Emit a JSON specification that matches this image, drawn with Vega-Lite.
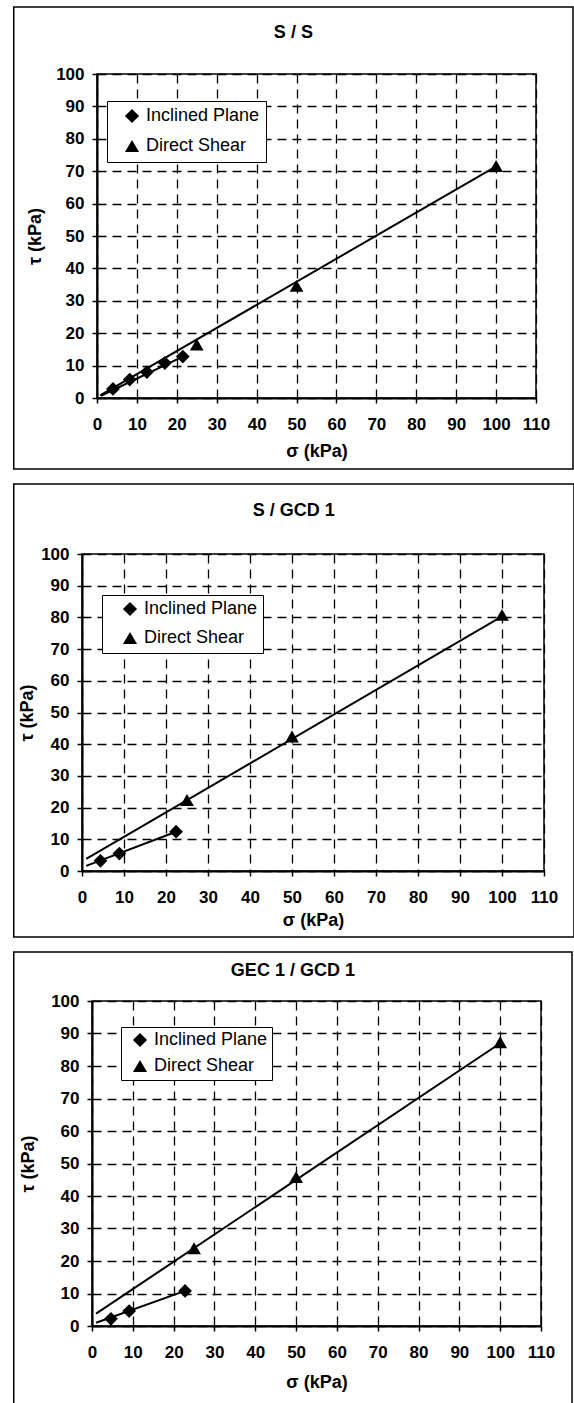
{
  "$schema": "https://vega.github.io/schema/vega-lite/v6.json",
  "background": "white",
  "padding": {"left": 11, "top": 5, "right": 1, "bottom": 0},
  "columns": 2,
  "align": "none",
  "spacing": {"row": 11, "column": 0},
  "resolve": {
    "scale": {"x": "independent", "y": "independent", "shape": "independent"},
    "axis": {"x": "independent", "y": "independent"},
    "legend": {"shape": "independent"}
  },
  "concat": [
    {
      "width": 1, "height": 1, "view": {"stroke": null},
      "data": {"values": [{"note": "spacer"}]},
      "mark": {"type": "text", "text": "", "opacity": 0}
    },
    {
      "width": 439, "height": 324,
      "title": {"text": "S / S", "offset": -36},
      "layer": [
        {
          "data": {"values": [{"frame": "S / S"}]},
          "mark": {"type": "rect", "filled": false, "color": "black", "strokeWidth": 1.5},
          "encoding": {
            "x": {"datum": -20.86, "type": "quantitative", "scale": {"domain": [0, 110], "nice": false, "zero": false},
                  "axis": {"title": "σ (kPa)", "values": [0,10,20,30,40,50,60,70,80,90,100,110], "titlePadding": 10}},
            "x2": {"datum": 119.27},
            "y": {"datum": 120.68, "type": "quantitative", "scale": {"domain": [0, 100], "nice": false, "zero": false},
                  "axis": {"title": "τ (kPa)", "values": [0,10,20,30,40,50,60,70,80,90,100], "titlePadding": 11}},
            "y2": {"datum": -21.91}
          }
        },
        {
          "data": {"values": [
            {"sigma": 0.8, "tau": 0.8, "method": "Direct Shear"},
            {"sigma": 100, "tau": 71.5, "method": "Direct Shear"},
            {"sigma": 1, "tau": 0.7, "method": "Inclined Plane"},
            {"sigma": 21.5, "tau": 12.8, "method": "Inclined Plane"}
          ]},
          "mark": {"type": "line", "color": "black", "strokeWidth": 2},
          "encoding": {
            "x": {"field": "sigma", "type": "quantitative", "scale": {"domain": [0, 110], "nice": false, "zero": false},
                  "axis": {"title": "σ (kPa)", "values": [0,10,20,30,40,50,60,70,80,90,100,110], "titlePadding": 10}},
            "y": {"field": "tau", "type": "quantitative", "scale": {"domain": [0, 100], "nice": false, "zero": false},
                  "axis": {"title": "τ (kPa)", "values": [0,10,20,30,40,50,60,70,80,90,100], "titlePadding": 11}},
            "detail": {"field": "method"}
          }
        },
        {
          "data": {"values": [
            {"sigma": 4.0, "tau": 2.8, "method": "Inclined Plane"},
            {"sigma": 8.2, "tau": 5.7, "method": "Inclined Plane"},
            {"sigma": 12.5, "tau": 8.0, "method": "Inclined Plane"},
            {"sigma": 17.0, "tau": 10.8, "method": "Inclined Plane"},
            {"sigma": 21.5, "tau": 12.8, "method": "Inclined Plane"},
            {"sigma": 25, "tau": 16.5, "method": "Direct Shear"},
            {"sigma": 50, "tau": 34.6, "method": "Direct Shear"},
            {"sigma": 100, "tau": 71.6, "method": "Direct Shear"}
          ]},
          "mark": {"type": "point", "filled": true, "color": "black", "size": 190, "opacity": 1},
          "encoding": {
            "x": {"field": "sigma", "type": "quantitative", "scale": {"domain": [0, 110], "nice": false, "zero": false},
                  "axis": {"title": "σ (kPa)", "values": [0,10,20,30,40,50,60,70,80,90,100,110], "titlePadding": 10}},
            "y": {"field": "tau", "type": "quantitative", "scale": {"domain": [0, 100], "nice": false, "zero": false},
                  "axis": {"title": "τ (kPa)", "values": [0,10,20,30,40,50,60,70,80,90,100], "titlePadding": 11}},
            "shape": {"field": "method", "type": "nominal",
                      "scale": {"domain": ["Inclined Plane", "Direct Shear"], "range": ["diamond", "triangle-up"]},
                      "legend": {"orient": "none", "legendX": 10, "legendY": 27, "padding": 6, "rowPadding": 9,
                                 "symbolOffset": 10, "labelExpr": "datum.label + '\u2002'"}}
          }
        }
      ]
    },
    {
      "width": 1, "height": 1, "view": {"stroke": null},
      "data": {"values": [{"note": "spacer"}]},
      "mark": {"type": "text", "text": "", "opacity": 0}
    },
    {
      "width": 462, "height": 317,
      "title": {"text": "S / GCD 1", "offset": -37},
      "layer": [
        {
          "data": {"values": [{"frame": "S / GCD 1"}]},
          "mark": {"type": "rect", "filled": false, "color": "black", "strokeWidth": 1.5},
          "encoding": {
            "x": {"datum": -16.25, "type": "quantitative", "scale": {"domain": [0, 110], "nice": false, "zero": false},
                  "axis": {"title": "σ (kPa)", "values": [0,10,20,30,40,50,60,70,80,90,100,110], "titlePadding": 6}},
            "x2": {"datum": 117.14},
            "y": {"datum": 122.08, "type": "quantitative", "scale": {"domain": [0, 100], "nice": false, "zero": false},
                  "axis": {"title": "τ (kPa)", "values": [0,10,20,30,40,50,60,70,80,90,100], "titlePadding": 4}},
            "y2": {"datum": -20.82}
          }
        },
        {
          "data": {"values": [
            {"sigma": 1, "tau": 3.8, "method": "Direct Shear"},
            {"sigma": 100, "tau": 80.3, "method": "Direct Shear"},
            {"sigma": 1, "tau": 1.6, "method": "Inclined Plane"},
            {"sigma": 22.4, "tau": 12.4, "method": "Inclined Plane"}
          ]},
          "mark": {"type": "line", "color": "black", "strokeWidth": 2},
          "encoding": {
            "x": {"field": "sigma", "type": "quantitative", "scale": {"domain": [0, 110], "nice": false, "zero": false},
                  "axis": {"title": "σ (kPa)", "values": [0,10,20,30,40,50,60,70,80,90,100,110], "titlePadding": 6}},
            "y": {"field": "tau", "type": "quantitative", "scale": {"domain": [0, 100], "nice": false, "zero": false},
                  "axis": {"title": "τ (kPa)", "values": [0,10,20,30,40,50,60,70,80,90,100], "titlePadding": 4}},
            "detail": {"field": "method"}
          }
        },
        {
          "data": {"values": [
            {"sigma": 4.4, "tau": 3.2, "method": "Inclined Plane"},
            {"sigma": 8.9, "tau": 5.5, "method": "Inclined Plane"},
            {"sigma": 22.4, "tau": 12.4, "method": "Inclined Plane"},
            {"sigma": 25, "tau": 22.4, "method": "Direct Shear"},
            {"sigma": 50, "tau": 42.4, "method": "Direct Shear"},
            {"sigma": 100, "tau": 80.8, "method": "Direct Shear"}
          ]},
          "mark": {"type": "point", "filled": true, "color": "black", "size": 190, "opacity": 1},
          "encoding": {
            "x": {"field": "sigma", "type": "quantitative", "scale": {"domain": [0, 110], "nice": false, "zero": false},
                  "axis": {"title": "σ (kPa)", "values": [0,10,20,30,40,50,60,70,80,90,100,110], "titlePadding": 6}},
            "y": {"field": "tau", "type": "quantitative", "scale": {"domain": [0, 100], "nice": false, "zero": false},
                  "axis": {"title": "τ (kPa)", "values": [0,10,20,30,40,50,60,70,80,90,100], "titlePadding": 4}},
            "shape": {"field": "method", "type": "nominal",
                      "scale": {"domain": ["Inclined Plane", "Direct Shear"], "range": ["diamond", "triangle-up"]},
                      "legend": {"orient": "none", "legendX": 20, "legendY": 41, "padding": 5, "rowPadding": 8,
                                 "symbolOffset": 14, "labelExpr": "datum.label + '\u2003'"}}
          }
        }
      ]
    },
    {
      "width": 1, "height": 1, "view": {"stroke": null},
      "data": {"values": [{"note": "spacer"}]},
      "mark": {"type": "text", "text": "", "opacity": 0}
    },
    {
      "width": 449, "height": 325,
      "title": {"text": "GEC 1 / GCD 1", "offset": -29},
      "layer": [
        {
          "data": {"values": [{"frame": "GEC 1 / GCD 1"}]},
          "mark": {"type": "rect", "filled": false, "color": "black", "strokeWidth": 1.5},
          "encoding": {
            "x": {"datum": -19.17, "type": "quantitative", "scale": {"domain": [0, 110], "nice": false, "zero": false},
                  "axis": {"title": "σ (kPa)", "values": [0,10,20,30,40,50,60,70,80,90,100,110], "titlePadding": 13}},
            "x2": {"datum": 117.6},
            "y": {"datum": 115.08, "type": "quantitative", "scale": {"domain": [0, 100], "nice": false, "zero": false},
                  "axis": {"title": "τ (kPa)", "values": [0,10,20,30,40,50,60,70,80,90,100], "titlePadding": 13}},
            "y2": {"datum": -25.5}
          }
        },
        {
          "data": {"values": [
            {"sigma": 1, "tau": 3.8, "method": "Direct Shear"},
            {"sigma": 100, "tau": 87.0, "method": "Direct Shear"},
            {"sigma": 1, "tau": 1.0, "method": "Inclined Plane"},
            {"sigma": 22.8, "tau": 10.8, "method": "Inclined Plane"}
          ]},
          "mark": {"type": "line", "color": "black", "strokeWidth": 2},
          "encoding": {
            "x": {"field": "sigma", "type": "quantitative", "scale": {"domain": [0, 110], "nice": false, "zero": false},
                  "axis": {"title": "σ (kPa)", "values": [0,10,20,30,40,50,60,70,80,90,100,110], "titlePadding": 13}},
            "y": {"field": "tau", "type": "quantitative", "scale": {"domain": [0, 100], "nice": false, "zero": false},
                  "axis": {"title": "τ (kPa)", "values": [0,10,20,30,40,50,60,70,80,90,100], "titlePadding": 13}},
            "detail": {"field": "method"}
          }
        },
        {
          "data": {"values": [
            {"sigma": 4.65, "tau": 2.2, "method": "Inclined Plane"},
            {"sigma": 9.1, "tau": 4.6, "method": "Inclined Plane"},
            {"sigma": 22.8, "tau": 10.8, "method": "Inclined Plane"},
            {"sigma": 25, "tau": 23.9, "method": "Direct Shear"},
            {"sigma": 50, "tau": 45.8, "method": "Direct Shear"},
            {"sigma": 100, "tau": 87.3, "method": "Direct Shear"}
          ]},
          "mark": {"type": "point", "filled": true, "color": "black", "size": 190, "opacity": 1},
          "encoding": {
            "x": {"field": "sigma", "type": "quantitative", "scale": {"domain": [0, 110], "nice": false, "zero": false},
                  "axis": {"title": "σ (kPa)", "values": [0,10,20,30,40,50,60,70,80,90,100,110], "titlePadding": 13}},
            "y": {"field": "tau", "type": "quantitative", "scale": {"domain": [0, 100], "nice": false, "zero": false},
                  "axis": {"title": "τ (kPa)", "values": [0,10,20,30,40,50,60,70,80,90,100], "titlePadding": 13}},
            "shape": {"field": "method", "type": "nominal",
                      "scale": {"domain": ["Inclined Plane", "Direct Shear"], "range": ["diamond", "triangle-up"]},
                      "legend": {"orient": "none", "legendX": 29, "legendY": 26, "padding": 4, "rowPadding": 5,
                                 "symbolOffset": 6, "labelExpr": "datum.label + '\u2002'"}}
          }
        }
      ]
    }
  ],
  "config": {
    "font": "Liberation Sans",
    "view": {"stroke": "black", "strokeWidth": 1.5},
    "title": {"font": "Liberation Sans", "fontSize": 18, "fontWeight": "bold", "color": "black", "anchor": "middle", "frame": "bounds"},
    "axis": {
      "labelFont": "Liberation Sans", "labelFontSize": 17, "labelFontWeight": "bold", "labelColor": "black",
      "labelFlush": false, "labelOverlap": false,
      "titleFont": "Liberation Sans", "titleFontSize": 18, "titleFontWeight": "bold", "titleColor": "black",
      "domainColor": "black", "domainWidth": 2, "tickColor": "black", "tickSize": 5, "tickWidth": 1.5,
      "grid": true, "gridColor": "black", "gridDash": [9, 6], "gridWidth": 1.3, "gridOpacity": 1
    },
    "axisX": {"labelPadding": 13},
    "axisY": {"labelPadding": 8},
    "legend": {
      "title": null, "direction": "vertical",
      "strokeColor": "black", "fillColor": "white",
      "labelFont": "Liberation Sans", "labelFontSize": 18, "labelColor": "black", "labelOffset": 5,
      "symbolSize": 200, "symbolFillColor": "black", "symbolStrokeColor": "black"
    }
  }
}
